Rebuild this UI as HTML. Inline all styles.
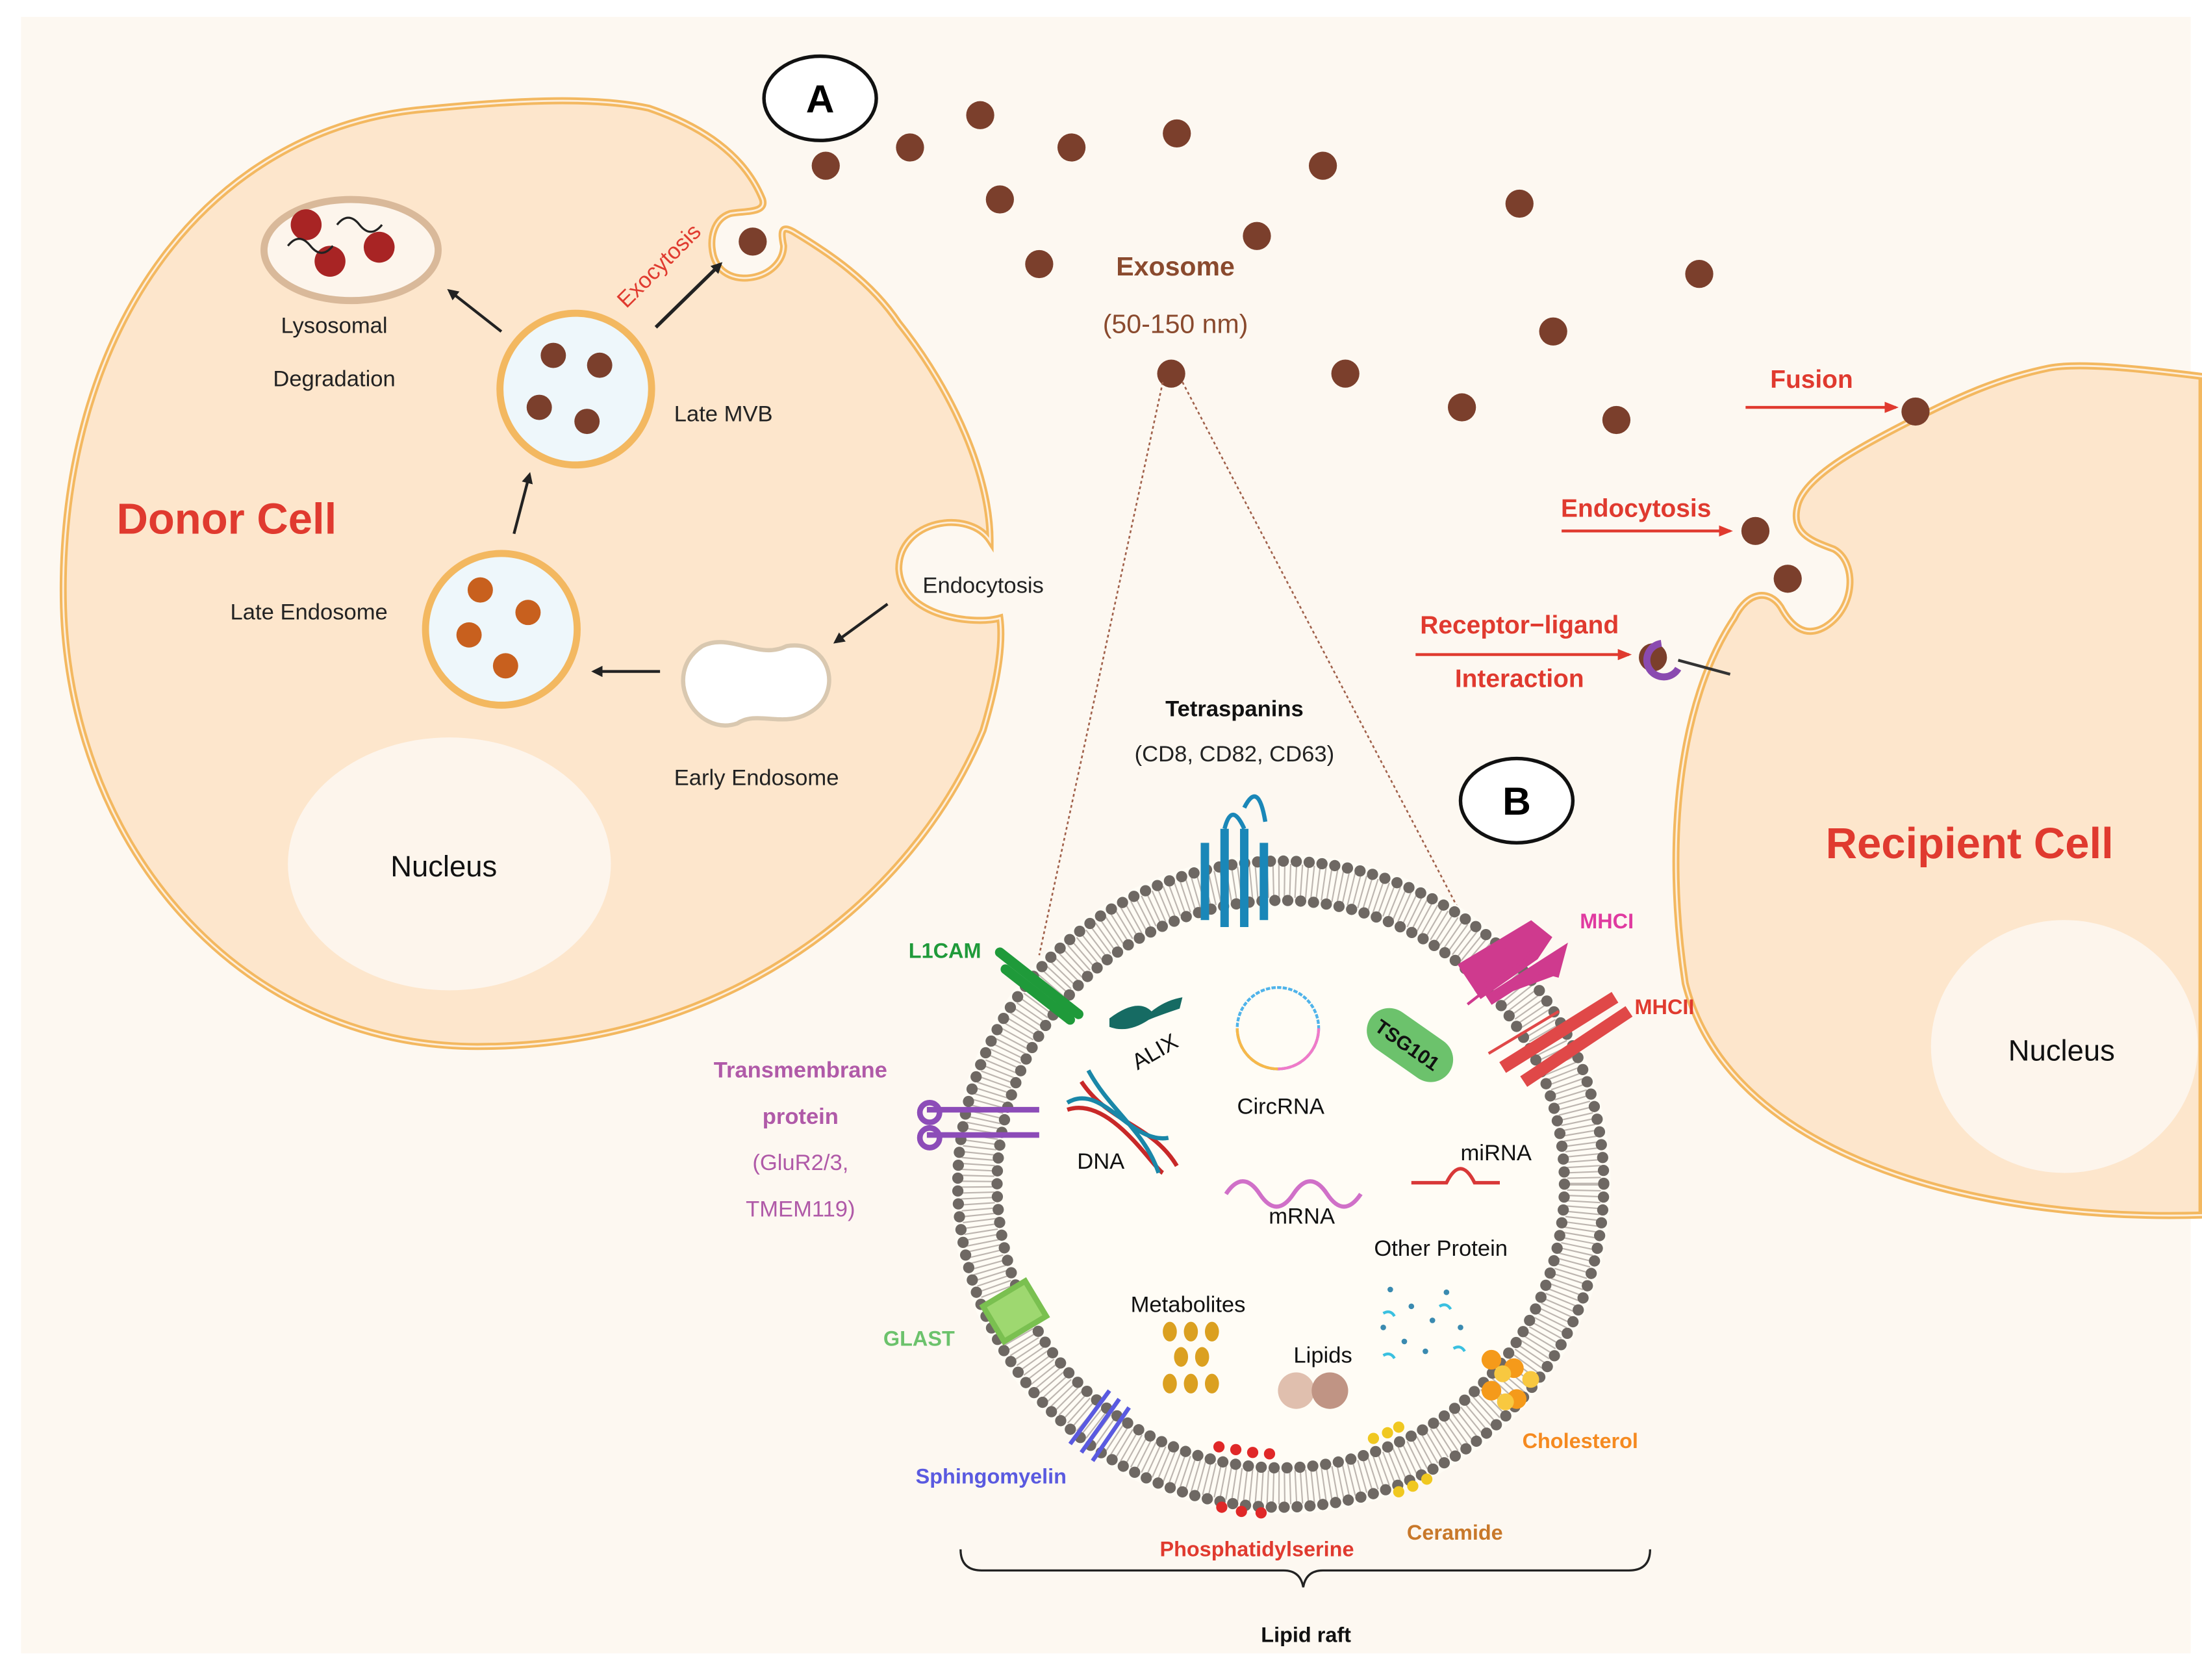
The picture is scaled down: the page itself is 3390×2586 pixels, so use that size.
<!DOCTYPE html>
<html><head><meta charset="utf-8"><style>
html,body{margin:0;padding:0;background:#fff}
svg{display:block}
text{font-family:"Liberation Sans",sans-serif}
</style></head><body>
<svg width="3390" height="2586" viewBox="0 0 1568 1196" preserveAspectRatio="none" xmlns="http://www.w3.org/2000/svg">
<defs>
<marker id="ak" markerWidth="8" markerHeight="8" refX="6" refY="4" orient="auto" markerUnits="userSpaceOnUse"><path d="M0,0 L8,4 L0,8 Z" fill="#222"/></marker>
<marker id="ar" markerWidth="10" markerHeight="8" refX="8" refY="4" orient="auto" markerUnits="userSpaceOnUse"><path d="M0,0 L10,4 L0,8 Z" fill="#e03a2f"/></marker>
</defs>
<rect x="0" y="0" width="1568" height="1196" fill="#fff"/>
<rect x="15" y="12" width="1545" height="1165" fill="#fdf8f1"/>
<!-- donor cell -->
<path id="donor" d="M462,77 C500,90 530,110 543,142 C546,152 530,150 520,152 C508,156 505,170 508,182 C512,196 525,200 538,197 C550,194 558,185 558,175 C556,165 556,160 565,165 C590,180 620,200 640,230 C680,280 705,340 705,385 C690,362 640,370 640,405 C642,440 695,445 712,440 C714,455 712,480 700,520 C650,640 520,745 340,745 C170,745 45,600 45,420 C45,230 150,92 300,78 C360,72 420,68 462,77 Z" fill="#fde6cc" stroke="#f3b860" stroke-width="5"/>
<path d="M462,77 C500,90 530,110 543,142 C546,152 530,150 520,152 C508,156 505,170 508,182 C512,196 525,200 538,197 C550,194 558,185 558,175 C556,165 556,160 565,165 C590,180 620,200 640,230 C680,280 705,340 705,385 C690,362 640,370 640,405 C642,440 695,445 712,440 C714,455 712,480 700,520 C650,640 520,745 340,745 C170,745 45,600 45,420 C45,230 150,92 300,78 C360,72 420,68 462,77 Z" fill="none" stroke="#fdeedb" stroke-width="1.3"/>
<ellipse cx="320" cy="615" rx="115" ry="90" fill="#fdf5ec"/>
<text x="316" y="624" font-size="21" text-anchor="middle" fill="#111">Nucleus</text>
<text x="83" y="380" font-size="31" font-weight="bold" fill="#e03a2f">Donor Cell</text>
<!-- recipient cell -->
<path d="M1568,268 C1520,262 1480,258 1459,262 C1420,270 1390,285 1364,298 C1320,320 1285,340 1280,360 C1275,380 1290,385 1306,391 C1322,400 1322,432 1300,446 C1285,455 1275,445 1268,432 C1260,420 1245,420 1235,440 C1195,500 1185,600 1200,700 C1230,820 1400,870 1568,865 Z" fill="#fde6cc" stroke="#f3b860" stroke-width="5"/>
<path d="M1568,268 C1520,262 1480,258 1459,262 C1420,270 1390,285 1364,298 C1320,320 1285,340 1280,360 C1275,380 1290,385 1306,391 C1322,400 1322,432 1300,446 C1285,455 1275,445 1268,432 C1260,420 1245,420 1235,440 C1195,500 1185,600 1200,700 C1230,820 1400,870 1568,865" fill="none" stroke="#fdeedb" stroke-width="1.3"/>
<ellipse cx="1470" cy="745" rx="95" ry="90" fill="#fdf5ec"/>
<text x="1468" y="755" font-size="21" text-anchor="middle" fill="#111">Nucleus</text>
<text x="1300" y="611" font-size="31" font-weight="bold" fill="#e03a2f">Recipient Cell</text>
<!-- internal organelles -->
<ellipse cx="250" cy="178" rx="62" ry="36" fill="#fdf5ec" stroke="#d9b99a" stroke-width="5"/>
<circle cx="218" cy="160" r="11" fill="#a82424"/><circle cx="235" cy="186" r="11" fill="#a82424"/><circle cx="270" cy="176" r="11" fill="#a82424"/>
<path d="M205,175 q8,-10 16,0 t16,0 M240,160 q8,-10 16,0 t16,0" stroke="#222" fill="none" stroke-width="1.5"/>
<text x="238" y="237" font-size="16" text-anchor="middle" fill="#222">Lysosomal</text>
<text x="238" y="275" font-size="16" text-anchor="middle" fill="#222">Degradation</text>
<circle cx="410" cy="277" r="54" fill="#eef7fb" stroke="#f3b860" stroke-width="5"/>
<circle cx="394" cy="253" r="9" fill="#7b3f2c"/><circle cx="427" cy="260" r="9" fill="#7b3f2c"/><circle cx="384" cy="290" r="9" fill="#7b3f2c"/><circle cx="418" cy="300" r="9" fill="#7b3f2c"/>
<text x="480" y="300" font-size="16" fill="#222">Late MVB</text>
<circle cx="357" cy="448" r="54" fill="#eef7fb" stroke="#f3b860" stroke-width="5"/>
<circle cx="342" cy="420" r="9" fill="#c8601e"/><circle cx="376" cy="436" r="9" fill="#c8601e"/><circle cx="334" cy="452" r="9" fill="#c8601e"/><circle cx="360" cy="474" r="9" fill="#c8601e"/>
<text x="164" y="441" font-size="16" fill="#222">Late Endosome</text>
<path d="M500,460 C520,450 540,470 560,460 C590,455 600,490 580,505 C560,520 540,505 525,515 C495,525 470,480 500,460 Z" fill="#fff" stroke="#d9c8b0" stroke-width="3"/>
<text x="480" y="559" font-size="16" fill="#222">Early Endosome</text>
<text x="657" y="422" font-size="16" fill="#222">Endocytosis</text>
<line x1="632" y1="430" x2="595" y2="457" stroke="#222" stroke-width="2" marker-end="url(#ak)"/>
<line x1="470" y1="478" x2="423" y2="478" stroke="#222" stroke-width="2" marker-end="url(#ak)"/>
<line x1="366" y1="380" x2="377" y2="338" stroke="#222" stroke-width="2" marker-end="url(#ak)"/>
<line x1="357" y1="236" x2="320" y2="207" stroke="#222" stroke-width="2" marker-end="url(#ak)"/>
<line x1="467" y1="233" x2="513" y2="188" stroke="#222" stroke-width="2.5" marker-end="url(#ak)"/>
<text x="0" y="0" font-size="16" fill="#e03a2f" transform="translate(446,220) rotate(-45)">Exocytosis</text>
<!-- A -->
<ellipse cx="584" cy="70" rx="40" ry="30" fill="#fff" stroke="#111" stroke-width="2.5"/>
<text x="584" y="80" font-size="28" font-weight="bold" text-anchor="middle">A</text>
<!-- exosomes -->
<g fill="#7b3f2c">
<circle cx="588" cy="118" r="10"/><circle cx="648" cy="105" r="10"/><circle cx="698" cy="82" r="10"/><circle cx="763" cy="105" r="10"/><circle cx="838" cy="95" r="10"/><circle cx="712" cy="142" r="10"/><circle cx="942" cy="118" r="10"/><circle cx="895" cy="168" r="10"/><circle cx="740" cy="188" r="10"/><circle cx="1082" cy="145" r="10"/><circle cx="1210" cy="195" r="10"/><circle cx="1106" cy="236" r="10"/><circle cx="958" cy="266" r="10"/><circle cx="1041" cy="290" r="10"/><circle cx="1151" cy="299" r="10"/><circle cx="834" cy="266" r="10"/><circle cx="536" cy="172" r="10"/><circle cx="1364" cy="293" r="10"/><circle cx="1250" cy="378" r="10"/><circle cx="1273" cy="412" r="10"/><circle cx="1177" cy="468" r="10"/>
</g>
<text x="837" y="196" font-size="19" font-weight="bold" text-anchor="middle" fill="#8a4a2e">Exosome</text>
<text x="837" y="237" font-size="19" text-anchor="middle" fill="#8a4a2e">(50-150 nm)</text>
<text x="1290" y="276" font-size="18" font-weight="bold" text-anchor="middle" fill="#e03a2f">Fusion</text>
<line x1="1243" y1="290" x2="1350" y2="290" stroke="#e03a2f" stroke-width="2" marker-end="url(#ar)"/>
<text x="1165" y="368" font-size="18" font-weight="bold" text-anchor="middle" fill="#e03a2f">Endocytosis</text>
<line x1="1112" y1="378" x2="1232" y2="378" stroke="#e03a2f" stroke-width="2" marker-end="url(#ar)"/>
<text x="1082" y="451" font-size="18" font-weight="bold" text-anchor="middle" fill="#e03a2f">Receptor−ligand</text>
<text x="1082" y="489" font-size="18" font-weight="bold" text-anchor="middle" fill="#e03a2f">Interaction</text>
<line x1="1008" y1="466" x2="1160" y2="466" stroke="#e03a2f" stroke-width="2" marker-end="url(#ar)"/>
<path d="M1183,458 a12,12 0 1,0 12,18" fill="none" stroke="#8a4ab0" stroke-width="5"/>
<line x1="1195" y1="470" x2="1232" y2="480" stroke="#333" stroke-width="2"/>
<!-- dotted zoom lines -->
<line x1="828" y1="272" x2="740" y2="680" stroke="#a0604a" stroke-width="1.2" stroke-dasharray="2 2"/>
<line x1="842" y1="272" x2="1040" y2="650" stroke="#a0604a" stroke-width="1.2" stroke-dasharray="2 2"/>
<!-- B -->
<ellipse cx="1080" cy="570" rx="40" ry="30" fill="#fff" stroke="#111" stroke-width="2.5"/>
<text x="1080" y="580" font-size="28" font-weight="bold" text-anchor="middle">B</text>
<!-- big exosome -->
<circle cx="912" cy="843" r="235" fill="#fffcf5"/>
<circle cx="912" cy="843" r="216" fill="none" stroke="#bdb6b0" stroke-width="24" stroke-dasharray="1 3"/>
<circle cx="912" cy="843" r="230" fill="none" stroke="#6e6863" stroke-width="8" stroke-linecap="round" stroke-dasharray="0 9.2"/>
<circle cx="912" cy="843" r="202" fill="none" stroke="#6e6863" stroke-width="8" stroke-linecap="round" stroke-dasharray="0 9.2"/>
<!-- membrane components -->
<g stroke="#1a87b8" stroke-width="6" fill="none"><line x1="858" y1="600" x2="858" y2="655"/><line x1="872" y1="590" x2="872" y2="660"/><line x1="886" y1="590" x2="886" y2="660"/><line x1="900" y1="600" x2="900" y2="655"/><path d="M872,590 q5,-20 14,0 M886,575 q10,-20 15,10" stroke-width="3"/></g>
<text x="879" y="510" font-size="16" font-weight="bold" text-anchor="middle" fill="#111">Tetraspanins</text>
<text x="879" y="542" font-size="16" text-anchor="middle" fill="#222">(CD8, CD82, CD63)</text>
<g stroke="#1f9a3a" stroke-width="7" stroke-linecap="round"><line x1="712" y1="678" x2="768" y2="722"/><line x1="716" y1="690" x2="762" y2="726"/></g>
<text x="647" y="682" font-size="15" font-weight="bold" fill="#1f9a3a">L1CAM</text>
<path d="M790,725 q20,-15 30,-5 q10,-8 22,-10 l-2,8 q-15,5 -22,8 q-15,10 -28,5 Z" fill="#166b63"/>
<text x="0" y="0" font-size="16" fill="#111" transform="translate(810,762) rotate(-30)">ALIX</text>
<circle cx="910" cy="732" r="29" fill="none" stroke="#4fb3ea" stroke-width="2" stroke-dasharray="3 1"/>
<path d="M881,732 a29,29 0 0,0 29,29" fill="none" stroke="#f7b84a" stroke-width="2"/><path d="M910,761 a29,29 0 0,0 29,-29" fill="none" stroke="#f07ac8" stroke-width="2"/>
<text x="912" y="793" font-size="16" text-anchor="middle" fill="#111">CircRNA</text>
<rect x="970" y="728" width="68" height="32" rx="16" fill="#6cc26c" transform="rotate(35 1004 744)"/>
<text x="0" y="0" font-size="14" font-weight="bold" fill="#111" transform="translate(978,733) rotate(35)">TSG101</text>
<path d="M1040,690 L1090,660 l10,8 l-8,12 l-40,28 M1060,712 L1110,680 l-4,15" fill="#cf3a8e" stroke="#cf3a8e" stroke-width="8"/>
<line x1="1045" y1="715" x2="1090" y2="680" stroke="#cf3a8e" stroke-width="2"/>
<text x="1125" y="661" font-size="15" font-weight="bold" fill="#e03aa0">MHCI</text>
<path d="M1070,760 L1150,710 M1085,770 L1160,720" stroke="#e04848" stroke-width="9"/>
<line x1="1060" y1="750" x2="1110" y2="720" stroke="#e04848" stroke-width="2"/>
<text x="1164" y="722" font-size="15" font-weight="bold" fill="#e03a2f">MHCII</text>
<path d="M770,770 C790,800 820,800 838,830 M760,790 C790,780 820,830 828,835" fill="none" stroke="#c82828" stroke-width="3"/>
<path d="M760,785 C785,770 805,815 832,810 M775,762 C790,790 815,805 825,835" fill="none" stroke="#1a87a8" stroke-width="3"/>
<text x="767" y="832" font-size="16" fill="#111">DNA</text>
<g stroke="#8c4cb8" stroke-width="4" fill="none"><path d="M660,790 h80 M660,808 h80"/><circle cx="662" cy="792" r="7"/><circle cx="662" cy="810" r="7"/></g>
<text x="570" y="767" font-size="16" font-weight="bold" text-anchor="middle" fill="#b05aa8">Transmembrane</text>
<text x="570" y="800" font-size="16" font-weight="bold" text-anchor="middle" fill="#b05aa8">protein</text>
<text x="570" y="833" font-size="16" text-anchor="middle" fill="#b05aa8">(GluR2/3,</text>
<text x="570" y="866" font-size="16" text-anchor="middle" fill="#b05aa8">TMEM119)</text>
<path d="M873,850 q12,-18 24,0 t24,0 t24,0 t24,0" fill="none" stroke="#d070c8" stroke-width="3"/>
<text x="927" y="871" font-size="16" text-anchor="middle" fill="#111">mRNA</text>
<path d="M1005,842 h25 q10,-20 20,0 h18" fill="none" stroke="#d83838" stroke-width="2.5"/>
<text x="1040" y="826" font-size="16" fill="#111">miRNA</text>
<text x="1026" y="894" font-size="16" text-anchor="middle" fill="#111">Other Protein</text>
<g fill="#3a8ab0"><circle cx="990" cy="918" r="2"/><circle cx="1005" cy="930" r="2"/><circle cx="1020" cy="940" r="2"/><circle cx="985" cy="945" r="2"/><circle cx="1000" cy="955" r="2"/><circle cx="1030" cy="920" r="2"/><circle cx="1015" cy="962" r="2"/><circle cx="1040" cy="945" r="2"/></g>
<path d="M985,935 q5,-3 8,2 M1025,930 q5,-3 8,2 M1035,960 q5,-3 8,2 M985,965 q5,-3 8,2" stroke="#3ac0e0" stroke-width="2" fill="none"/>
<path d="M700,930 l30,-18 l15,25 l-30,18 Z" fill="#9ed870" stroke="#7ac050" stroke-width="4"/>
<text x="629" y="958" font-size="15" font-weight="bold" fill="#6cc26c">GLAST</text>
<text x="846" y="934" font-size="16" text-anchor="middle" fill="#111">Metabolites</text>
<g fill="#dba020"><ellipse cx="833" cy="948" rx="5" ry="7"/><ellipse cx="848" cy="948" rx="5" ry="7"/><ellipse cx="863" cy="948" rx="5" ry="7"/><ellipse cx="841" cy="966" rx="5" ry="7"/><ellipse cx="856" cy="966" rx="5" ry="7"/><ellipse cx="833" cy="985" rx="5" ry="7"/><ellipse cx="848" cy="985" rx="5" ry="7"/><ellipse cx="863" cy="985" rx="5" ry="7"/></g>
<text x="942" y="970" font-size="16" text-anchor="middle" fill="#111">Lipids</text>
<circle cx="923" cy="990" r="13" fill="#e0bfae"/><circle cx="947" cy="990" r="13" fill="#c09484"/>
<g fill="#f59a1a"><circle cx="1062" cy="968" r="7"/><circle cx="1078" cy="974" r="7"/><circle cx="1062" cy="990" r="7"/><circle cx="1080" cy="996" r="7"/></g>
<g fill="#f8c840"><circle cx="1070" cy="978" r="6"/><circle cx="1090" cy="982" r="6"/><circle cx="1072" cy="998" r="6"/></g>
<text x="1084" y="1031" font-size="15" font-weight="bold" fill="#f58a20">Cholesterol</text>
<g stroke="#5a5ae0" stroke-width="3"><line x1="762" y1="1028" x2="790" y2="990"/><line x1="770" y1="1034" x2="797" y2="996"/><line x1="778" y1="1040" x2="804" y2="1002"/></g>
<text x="652" y="1056" font-size="15" font-weight="bold" fill="#5a5ae0">Sphingomyelin</text>
<g fill="#e02828"><circle cx="868" cy="1030" r="4"/><circle cx="880" cy="1032" r="4"/><circle cx="892" cy="1034" r="4"/><circle cx="904" cy="1035" r="4"/><circle cx="870" cy="1073" r="4"/><circle cx="884" cy="1076" r="4"/><circle cx="898" cy="1077" r="4"/></g>
<g fill="#f0c820"><circle cx="978" cy="1024" r="4"/><circle cx="988" cy="1020" r="4"/><circle cx="996" cy="1016" r="4"/><circle cx="996" cy="1062" r="4"/><circle cx="1006" cy="1058" r="4"/><circle cx="1016" cy="1053" r="4"/></g>
<text x="895" y="1108" font-size="15" font-weight="bold" text-anchor="middle" fill="#e03a2f">Phosphatidylserine</text>
<text x="1036" y="1096" font-size="15" font-weight="bold" text-anchor="middle" fill="#c8782a">Ceramide</text>
<path d="M684,1103 q0,15 15,15 h215 q12,0 14,12 q2,-12 14,-12 h218 q15,0 15,-15" fill="none" stroke="#222" stroke-width="1.5"/>
<text x="930" y="1169" font-size="15" font-weight="bold" text-anchor="middle" fill="#111">Lipid raft</text>
</svg>
</body></html>
